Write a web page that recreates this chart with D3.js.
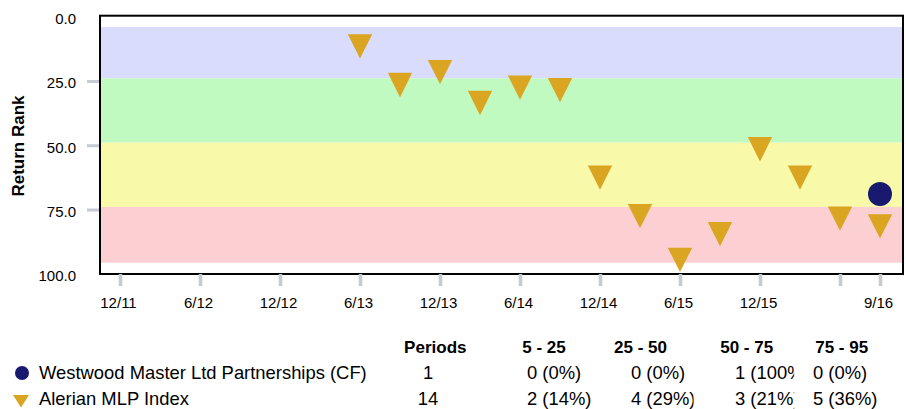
<!DOCTYPE html>
<html>
<head>
<meta charset="utf-8">
<script src="https://cdn.jsdelivr.net/npm/d3@7"></script>
<style>
  body { margin: 0; background: #fff; }
  svg { display: block; font-family: "Liberation Sans", Arial, Helvetica, sans-serif; }
</style>
</head>
<body>
<svg id="chart" width="906" height="409"></svg>
<script>
// ---- data ----
const seriesNames = ["Westwood Master Ltd Partnerships (CF)", "Alerian MLP Index"];
const seriesColors = ["#191970", "#daa520"];

const fundPeriods = ["9/16"];
const fundRanks = [70];

const indexPeriods = ["6/13", "9/13", "12/13", "3/14", "6/14", "9/14", "12/14",
                      "3/15", "6/15", "9/15", "12/15", "3/16", "6/16", "9/16"];
const indexRanks = [11, 26, 21, 33, 27, 28, 62, 77, 94, 84, 51, 62, 78, 81];

const axisPeriods = ["12/11", "6/12", "12/12", "6/13", "12/13", "6/14", "12/14",
                     "6/15", "12/15", "6/16", "9/16"];
const unlabeledPeriods = ["6/16"];

const rankTicks = [0, 25, 50, 75, 100];
const rankTickMarks = [25, 50, 75];

const bandNames = ["5 - 25", "25 - 50", "50 - 75", "75 - 95"];
const bandLimits = [[5, 25], [25, 50], [50, 75], [75, 95]];
const bandFillLimits = [[5, 25], [25, 50], [50, 75], [75, 96.7]];
const bandColors = ["#dadcfd", "#c0fac0", "#f9f9aa", "#fccfd3"];

// ---- helpers ----
// "M/YY" -> months since Dec 2011
const monthIndex = p => {
  const [m, yy] = p.split("/").map(Number);
  return (yy - 11) * 12 + (m - 12);
};

// downward triangle centred on its centroid
const triPath = (w, h) => {
  const p = d3.path();
  p.moveTo(-w / 2, -h / 3);
  p.lineTo(w / 2, -h / 3);
  p.lineTo(0, 2 * h / 3);
  p.closePath();
  return p.toString();
};

const svg = d3.select("#chart");

const frame = { left: 100, right: 903, top: 15.7, bottom: 274 };

const x = d3.scaleLinear().domain([0, 57]).range([120, 880]);
const y = d3.scaleLinear().domain([0, 100]).range([14.1, 271.2]);

// ---- rank bands ----
svg.append("g").selectAll("rect")
  .data(bandFillLimits)
  .join("rect")
  .attr("x", frame.left + 1)
  .attr("width", frame.right - frame.left - 2)
  .attr("y", d => y(d[0]))
  .attr("height", d => y(d[1]) - y(d[0]))
  .attr("fill", (d, i) => bandColors[i]);

// ---- frame ----
svg.append("rect")
  .attr("x", frame.left).attr("y", frame.top)
  .attr("width", frame.right - frame.left)
  .attr("height", frame.bottom - frame.top)
  .attr("fill", "none").attr("stroke", "#000").attr("stroke-width", 2);

// ---- y axis ----
const yAxis = svg.append("g")
  .attr("transform", `translate(${frame.left - 1},2.6)`)
  .call(d3.axisLeft(y).tickValues(rankTicks).tickFormat(d3.format(".1f"))
    .tickSize(12).tickPadding(11));
yAxis.select(".domain").remove();
yAxis.selectAll(".tick line")
  .attr("stroke", "#c6cbd1").attr("stroke-width", 3)
  .attr("display", d => rankTickMarks.includes(d) ? null : "none");
yAxis.selectAll(".tick text")
  .attr("y", 2.2).attr("fill", "#000").style("font-size", "15px");

svg.append("text")
  .attr("transform", "translate(24,146) rotate(-90)")
  .attr("text-anchor", "middle")
  .style("font-size", "17px").style("font-weight", "bold")
  .text("Return Rank");

// ---- x axis ----
const xAxis = svg.append("g")
  .attr("transform", `translate(0,${frame.bottom})`)
  .call(d3.axisBottom(x)
    .tickValues(axisPeriods.map(monthIndex))
    .tickFormat((d, i) => unlabeledPeriods.includes(axisPeriods[i]) ? "" : axisPeriods[i])
    .tickSize(12).tickPadding(11));
xAxis.select(".domain").remove();
xAxis.selectAll(".tick line").attr("stroke", "#c6cbd1").attr("stroke-width", 3.5);
xAxis.selectAll(".tick text").attr("x", -2).attr("fill", "#000").style("font-size", "15px");

// ---- markers ----
svg.append("g").selectAll("path")
  .data(indexPeriods.map((p, i) => ({ p, r: indexRanks[i] })))
  .join("path")
  .attr("d", triPath(24.4, 24.3))
  .attr("transform", d => `translate(${x(monthIndex(d.p))},${y(d.r)})`)
  .attr("fill", seriesColors[1]);

svg.append("g").selectAll("circle")
  .data(fundPeriods.map((p, i) => ({ p, r: fundRanks[i] })))
  .join("circle")
  .attr("cx", d => x(monthIndex(d.p)))
  .attr("cy", d => y(d.r))
  .attr("r", 12)
  .attr("fill", seriesColors[0]);

// ---- legend & distribution table ----
const allRanks = [fundRanks, indexRanks];
const rowY = [379, 405];
const headerY = 353;
const periodsCenter = 428;
const headerCenters = [544, 640.5, 746.7, 841.7];
const valueLefts = [527, 631, 735, 813];
const clipRights = headerCenters.map((c, i) =>
  i < headerCenters.length - 1 ? (c + headerCenters[i + 1]) / 2 : 906);

const defs = svg.append("defs");
valueLefts.forEach((l, i) => {
  defs.append("clipPath").attr("id", `col${i}`)
    .append("rect").attr("x", l - 2).attr("y", 330)
    .attr("width", clipRights[i] - l + 2).attr("height", 80);
});

const table = svg.append("g").style("font-size", "18.4px").attr("fill", "#000");

const header = table.append("g").style("font-weight", "bold").style("font-size", "17px")
  .attr("text-anchor", "middle");
header.append("text").attr("x", 435.3).attr("y", headerY).text("Periods");
header.selectAll("text.band").data(bandNames).join("text")
  .attr("class", "band")
  .attr("x", (d, i) => headerCenters[i]).attr("y", headerY).text(d => d);

// legend symbols
table.append("circle").attr("cx", 22).attr("cy", 373).attr("r", 7).attr("fill", seriesColors[0]);
table.append("path").attr("d", triPath(16, 12.5))
  .attr("transform", "translate(21,399.2)").attr("fill", seriesColors[1]);

seriesNames.forEach((name, s) => {
  const ranks = allRanks[s];
  const n = ranks.length;
  table.append("text").attr("x", 39).attr("y", rowY[s]).text(name);
  table.append("text").attr("x", periodsCenter).attr("y", rowY[s])
    .attr("text-anchor", "middle").text(n);
  bandLimits.forEach(([lo, hi], b) => {
    const c = ranks.filter(r => r > lo && r <= hi).length;
    table.append("text")
      .attr("x", valueLefts[b]).attr("y", rowY[s])
      .attr("clip-path", `url(#col${b})`)
      .text(`${c} (${Math.round(c / n * 100)}%)`);
  });
});
</script>
</body>
</html>
